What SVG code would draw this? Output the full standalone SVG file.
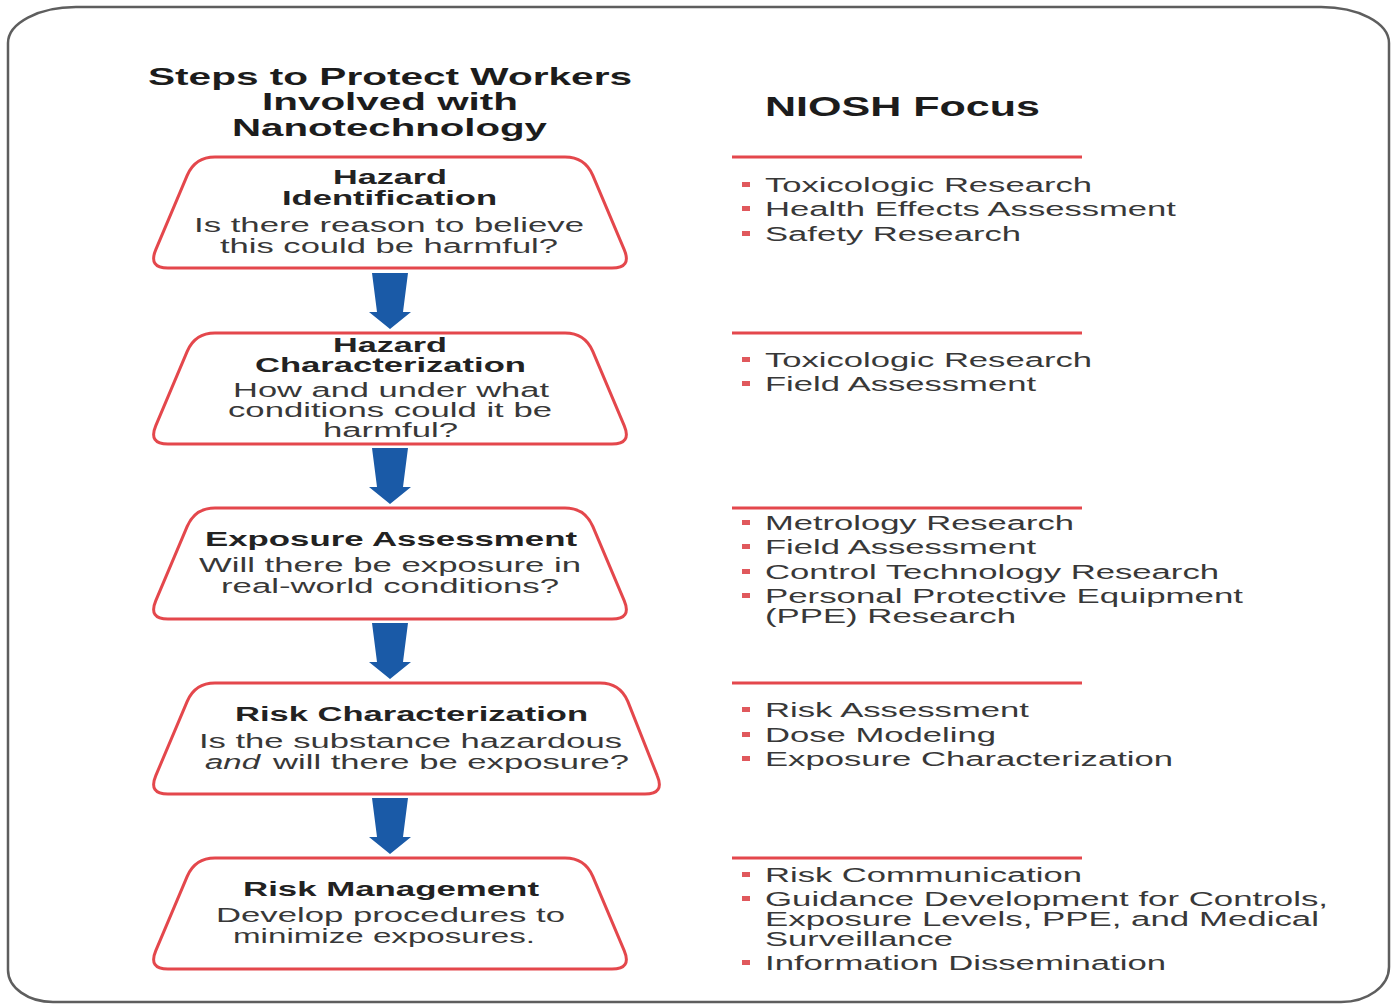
<svg xmlns="http://www.w3.org/2000/svg" xmlns:xlink="http://www.w3.org/1999/xlink" width="1398" height="1004" viewBox="0 0 1398 1004">
  <style>
    .frame { fill: #ffffff; stroke: #5e5e5e; stroke-width: 2.5; }
    .step { fill: #ffffff; stroke: #e4474c; stroke-width: 3; }
    .flow { fill: #1a5aa7; }
    .rule { stroke: #e4474c; stroke-width: 3; }
    .dot { fill: #e0585c; }
    text { font-family: "Liberation Sans", Arial, sans-serif; }
    .title { font-size: 24px; font-weight: bold; fill: #1c1c1c; }
    .head { font-size: 28px; font-weight: bold; fill: #1c1c1c; }
    .name { font-size: 20px; font-weight: bold; fill: #222222; }
    .ask { font-size: 20px; fill: #383838; }
    .ask-i { font-size: 20px; font-style: italic; fill: #383838; }
    .item { font-size: 20px; fill: #383838; }
  </style>
  <defs>
    <!-- rounded trapezoid used by the step boxes (top at y=0, height 111) -->
    <path id="box" d="M215,0 H565 Q585,0 592.8,18.4 L624.2,92.6 Q632,111 612,111 H168 Q148,111 155.8,92.6 L187.2,18.4 Q195,0 215,0 Z"/>
    <path id="box-wide" d="M215,0 H600 Q620,0 627.8,18.4 L657.2,92.6 Q665,111 645,111 H168 Q148,111 155.8,92.6 L187.2,18.4 Q195,0 215,0 Z"/>
    <!-- block arrow pointing down -->
    <polygon id="down" points="372,0 408,0 403,39 411,39 390,56 369,39 377,39"/>
    <rect id="sq" x="0" y="0" width="8" height="5"/>
  </defs>

  <!-- outer frame -->
  <path class="frame" d="M8,43 A68,36 0 0 1 76,7 H1320 A68,36 0 0 1 1389,43 V967 A48,35 0 0 1 1341,1002 H53 A45,32 0 0 1 8,970 Z"/>

  <!-- column headings -->
  <g id="heading-steps">
    <text class="title" x="148" y="85" textLength="484" lengthAdjust="spacingAndGlyphs">Steps to Protect Workers</text>
    <text class="title" x="262" y="110" textLength="256" lengthAdjust="spacingAndGlyphs">Involved with</text>
    <text class="title" x="232" y="136" textLength="315" lengthAdjust="spacingAndGlyphs">Nanotechnology</text>
  </g>
  <g id="heading-focus">
    <text class="head" x="765" y="116" textLength="275" lengthAdjust="spacingAndGlyphs">NIOSH Focus</text>
  </g>

  <!-- connectors between steps -->
  <g id="connectors">
    <use xlink:href="#down" class="flow" transform="translate(0,273)"/>
    <use xlink:href="#down" class="flow" transform="translate(0,448)"/>
    <use xlink:href="#down" class="flow" transform="translate(0,623)"/>
    <use xlink:href="#down" class="flow" transform="translate(0,798)"/>
  </g>

  <!-- steps -->
  <g id="hazard-identification">
    <use xlink:href="#box" class="step" transform="translate(0,157)"/>
    <text class="name" x="333" y="184" textLength="114" lengthAdjust="spacingAndGlyphs">Hazard</text>
    <text class="name" x="282" y="205" textLength="215" lengthAdjust="spacingAndGlyphs">Identification</text>
    <text class="ask" x="194" y="232" textLength="390" lengthAdjust="spacingAndGlyphs">Is there reason to believe</text>
    <text class="ask" x="220" y="253" textLength="338" lengthAdjust="spacingAndGlyphs">this could be harmful?</text>
  </g>

  <g id="hazard-characterization">
    <use xlink:href="#box" class="step" transform="translate(0,333)"/>
    <text class="name" x="333" y="352" textLength="114" lengthAdjust="spacingAndGlyphs">Hazard</text>
    <text class="name" x="255" y="372" textLength="271" lengthAdjust="spacingAndGlyphs">Characterization</text>
    <text class="ask" x="233" y="397" textLength="316" lengthAdjust="spacingAndGlyphs">How and under what</text>
    <text class="ask" x="228" y="417" textLength="324" lengthAdjust="spacingAndGlyphs">conditions could it be</text>
    <text class="ask" x="323" y="437" textLength="135" lengthAdjust="spacingAndGlyphs">harmful?</text>
  </g>

  <g id="exposure-assessment">
    <use xlink:href="#box" class="step" transform="translate(0,508)"/>
    <text class="name" x="205" y="546" textLength="372" lengthAdjust="spacingAndGlyphs">Exposure Assessment</text>
    <text class="ask" x="199" y="572" textLength="382" lengthAdjust="spacingAndGlyphs">Will there be exposure in</text>
    <text class="ask" x="221" y="593" textLength="338" lengthAdjust="spacingAndGlyphs">real-world conditions?</text>
  </g>

  <g id="risk-characterization">
    <use xlink:href="#box-wide" class="step" transform="translate(0,683)"/>
    <text class="name" x="235" y="721" textLength="353" lengthAdjust="spacingAndGlyphs">Risk Characterization</text>
    <text class="ask" x="199" y="748" textLength="423" lengthAdjust="spacingAndGlyphs">Is the substance hazardous</text>
    <text class="ask-i" x="205" y="769" textLength="55" lengthAdjust="spacingAndGlyphs">and</text>
    <text class="ask" x="273" y="769" textLength="356" lengthAdjust="spacingAndGlyphs">will there be exposure?</text>
  </g>

  <g id="risk-management">
    <use xlink:href="#box" class="step" transform="translate(0,858)"/>
    <text class="name" x="243" y="896" textLength="296" lengthAdjust="spacingAndGlyphs">Risk Management</text>
    <text class="ask" x="216" y="922" textLength="349" lengthAdjust="spacingAndGlyphs">Develop procedures to</text>
    <text class="ask" x="233" y="943" textLength="302" lengthAdjust="spacingAndGlyphs">minimize exposures.</text>
  </g>

  <!-- NIOSH focus lists -->
  <g id="focus-identification">
    <line class="rule" x1="732" y1="157" x2="1082" y2="157"/>
    <use xlink:href="#sq" class="dot" x="742" y="182"/>
    <text class="item" x="765" y="192" textLength="327" lengthAdjust="spacingAndGlyphs">Toxicologic Research</text>
    <use xlink:href="#sq" class="dot" x="742" y="206"/>
    <text class="item" x="765" y="216" textLength="411" lengthAdjust="spacingAndGlyphs">Health Effects Assessment</text>
    <use xlink:href="#sq" class="dot" x="742" y="231"/>
    <text class="item" x="765" y="241" textLength="256" lengthAdjust="spacingAndGlyphs">Safety Research</text>
  </g>

  <g id="focus-characterization">
    <line class="rule" x1="732" y1="333" x2="1082" y2="333"/>
    <use xlink:href="#sq" class="dot" x="742" y="357"/>
    <text class="item" x="765" y="367" textLength="327" lengthAdjust="spacingAndGlyphs">Toxicologic Research</text>
    <use xlink:href="#sq" class="dot" x="742" y="381"/>
    <text class="item" x="765" y="391" textLength="271" lengthAdjust="spacingAndGlyphs">Field Assessment</text>
  </g>

  <g id="focus-exposure">
    <line class="rule" x1="732" y1="508" x2="1082" y2="508"/>
    <use xlink:href="#sq" class="dot" x="742" y="520"/>
    <text class="item" x="765" y="530" textLength="309" lengthAdjust="spacingAndGlyphs">Metrology Research</text>
    <use xlink:href="#sq" class="dot" x="742" y="544"/>
    <text class="item" x="765" y="554" textLength="271" lengthAdjust="spacingAndGlyphs">Field Assessment</text>
    <use xlink:href="#sq" class="dot" x="742" y="569"/>
    <text class="item" x="765" y="579" textLength="454" lengthAdjust="spacingAndGlyphs">Control Technology Research</text>
    <use xlink:href="#sq" class="dot" x="742" y="593"/>
    <text class="item" x="765" y="603" textLength="478" lengthAdjust="spacingAndGlyphs">Personal Protective Equipment</text>
    <text class="item" x="765" y="623" textLength="251" lengthAdjust="spacingAndGlyphs">(PPE) Research</text>
  </g>

  <g id="focus-risk">
    <line class="rule" x1="732" y1="683" x2="1082" y2="683"/>
    <use xlink:href="#sq" class="dot" x="742" y="707"/>
    <text class="item" x="765" y="717" textLength="264" lengthAdjust="spacingAndGlyphs">Risk Assessment</text>
    <use xlink:href="#sq" class="dot" x="742" y="732"/>
    <text class="item" x="765" y="742" textLength="231" lengthAdjust="spacingAndGlyphs">Dose Modeling</text>
    <use xlink:href="#sq" class="dot" x="742" y="756"/>
    <text class="item" x="765" y="766" textLength="408" lengthAdjust="spacingAndGlyphs">Exposure Characterization</text>
  </g>

  <g id="focus-management">
    <line class="rule" x1="732" y1="858" x2="1082" y2="858"/>
    <use xlink:href="#sq" class="dot" x="742" y="872"/>
    <text class="item" x="765" y="882" textLength="317" lengthAdjust="spacingAndGlyphs">Risk Communication</text>
    <use xlink:href="#sq" class="dot" x="742" y="896"/>
    <text class="item" x="765" y="906" textLength="563" lengthAdjust="spacingAndGlyphs">Guidance Development for Controls,</text>
    <text class="item" x="765" y="926" textLength="554" lengthAdjust="spacingAndGlyphs">Exposure Levels, PPE, and Medical</text>
    <text class="item" x="765" y="946" textLength="188" lengthAdjust="spacingAndGlyphs">Surveillance</text>
    <use xlink:href="#sq" class="dot" x="742" y="960"/>
    <text class="item" x="765" y="970" textLength="401" lengthAdjust="spacingAndGlyphs">Information Dissemination</text>
  </g>
</svg>
